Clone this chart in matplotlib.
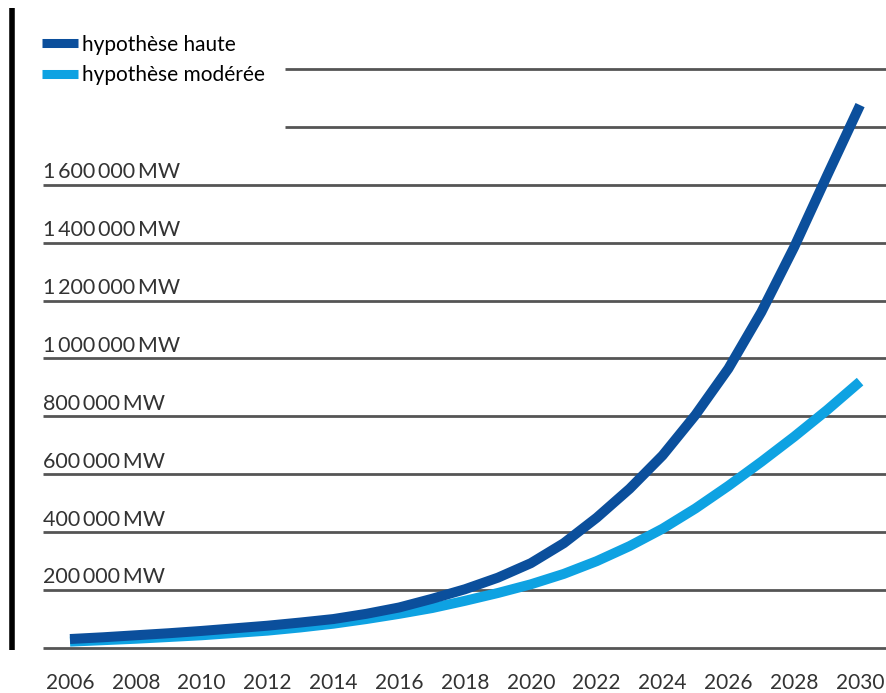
import matplotlib
matplotlib.use('Agg')
import matplotlib.pyplot as plt
from matplotlib.lines import Line2D

years = list(range(2006, 2031))
haute = [31000, 37000, 44000, 51000, 59000, 68000, 77000, 88000, 100000, 118000,
         140000, 170000, 203000, 243000, 293000, 362000, 450000, 550000, 665000,
         805000, 965000, 1160000, 1385000, 1632000, 1875000]
moderee = [22000, 27000, 32000, 38000, 44000, 52000, 60000, 71000, 84000, 100000,
           118000, 138000, 163000, 190000, 220000, 256000, 300000, 352000, 412000,
           482000, 560000, 643000, 730000, 822000, 920000]

year_labels = [str(y) for y in range(2006, 2031, 2)]
grid_values = [0, 200000, 400000, 600000, 800000, 1000000, 1200000, 1400000, 1600000, 1800000, 2000000]
tick_labels = ['200\u2009000\u2009MW', '400\u2009000\u2009MW', '600\u2009000\u2009MW',
               '800\u2009000\u2009MW', '1\u2009000\u2009000\u2009MW', '1\u2009200\u2009000\u2009MW',
               '1\u2009400\u2009000\u2009MW', '1\u2009600\u2009000\u2009MW']

plt.rcParams['font.family'] = ['Lato', 'DejaVu Sans']

dark = '#0b4f9c'
light = '#0ea2e2'
text_col = '#333333'

fig = plt.figure(figsize=(8.87, 6.93), dpi=100)
ax = fig.add_axes([0, 0, 1, 1])
ax.set_xlim(2003.874, 2030.818)
ax.set_ylim(-155400, 2238000)
ax.axis('off')

# horizontal guides; the two top ones stop short of the legend
for v in grid_values:
    x0 = 2012.53 if v >= 1800000 else 2005.18
    ax.hlines(v, x0, 2030.818, color='#555555', lw=2, zorder=1)

# left rule
ax.vlines(2004.24, -7000, 2210000, color='black', lw=4, zorder=1)

for v, lab in zip(grid_values[1:], tick_labels):
    ax.text(2005.18, v + 9000, lab, ha='left', va='bottom', fontsize=15.5,
            color=text_col)

for lab in year_labels:
    ax.text(int(lab), -121000, lab, ha='center', va='center', fontsize=15, color=text_col)

ax.plot(years, haute, color=dark, lw=7.2, solid_capstyle='butt', zorder=3)
ax.plot(years, moderee, color=light, lw=7.2, solid_capstyle='butt', zorder=2)

handles = [Line2D([], [], color=dark, lw=6.5, solid_capstyle='butt'),
           Line2D([], [], color=light, lw=6.5, solid_capstyle='butt')]
fig.legend(handles, ['hypothèse haute', 'hypothèse modérée'],
           loc='upper left', bbox_to_anchor=(0.047, 0.95), frameon=False,
           fontsize=15, handlelength=1.75, handletextpad=0.2, labelspacing=0.5,
           borderpad=0, borderaxespad=0)

fig.savefig('out.png', dpi=100)
